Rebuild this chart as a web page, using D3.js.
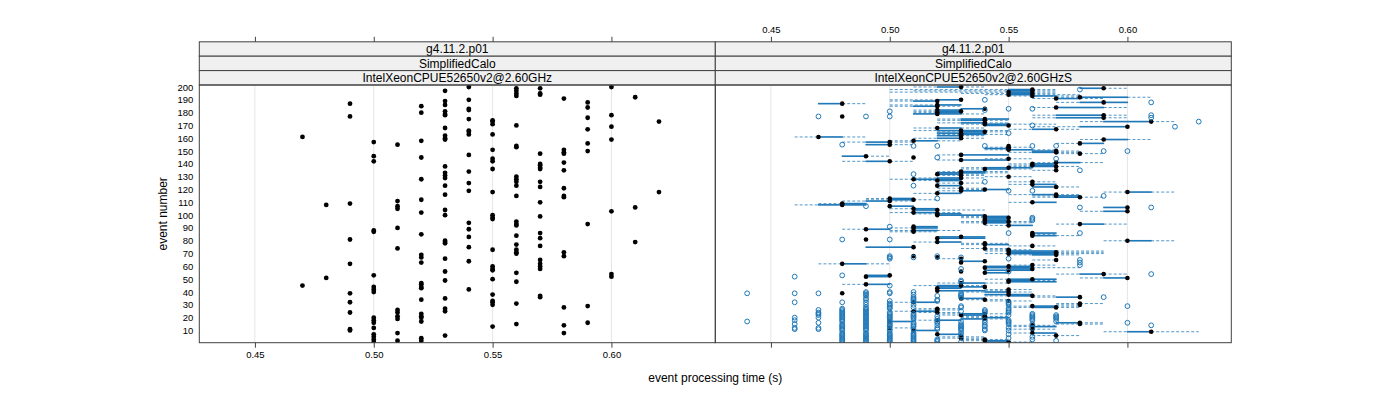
<!DOCTYPE html>
<html><head><meta charset="utf-8">
<script src="https://cdn.jsdelivr.net/npm/d3@7"></script>
<style>
body{margin:0;background:#fff}
svg{display:block}
text{font-family:"Liberation Sans",Arial,Helvetica,sans-serif;fill:#000}
</style></head>
<body><svg id="chart" width="1400" height="400"></svg>
<script>
// ---------------- data ----------------
const stripLevel1 = "g4.11.2.p01";
const stripLevel2 = "SimplifiedCalo";
const panelNames = ["IntelXeonCPUE52650v2@2.60GHz", "IntelXeonCPUE52650v2@2.60GHzS"];
const xTickValues = [0.45, 0.50, 0.55, 0.60];
const yTickValues = [10,20,30,40,50,60,70,80,90,100,110,120,130,140,150,160,170,180,190,200];
const xLabel = "event processing time (s)";
const yLabel = "event number";

// left panel: single measurement per event (time column -> event numbers)
const leftTimes = [0.47,0.48,0.49,0.50,0.51,0.52,0.53,0.54,0.55,0.56,0.57,0.58,0.59,0.60,0.61,0.62];
const leftEvents = [
  [161,45],
  [108,51],
  [187,177,109,81,62,39,32,24,11,10],
  [157,146,142,88,87,53,44,42,40,20,18,16,12,7,5,3,1],
  [155,111,107,105,90,74,26,24,21,19,8,2],
  [185,180,158,145,128,112,102,85,69,67,63,47,46,44,43,34,23,21,20,17,4,2],
  [197,189,186,181,179,178,168,162,160,159,138,133,131,129,123,116,104,100,80,79,78,66,56,49,35,27,25,6],
  [200,190,183,182,175,166,165,163,147,134,125,119,94,89,83,75,64,42],
  [174,173,171,163,151,144,142,136,118,100,98,97,73,60,58,57,50,38,33,32,30,13],
  [199,197,195,193,170,154,153,130,128,126,123,115,95,93,92,84,77,73,71,70,55,48,31,15],
  [199,195,194,148,140,139,137,136,126,122,110,99,86,82,76,65,62,60,58,37,36],
  [191,151,149,148,141,135,121,115,114,71,68,28,14,8],
  [188,184,176,167,156,150,93,29,16],
  [200,178,169,159,103,54,52],
  [192,106,79],
  [173,118]
];

// right panel: box statistics per event [event, whiskerLow, q1, median, q3, whiskerHigh]
const rightBoxes = [
[200,.51,.52,.53,.53,.54],[199,.58,.58,.59,.59,.60],[198,.50,.55,.56,.56,.57],[197,.51,.55,.56,.56,.57],
[196,.50,.55,.55,.56,.57],[195,.53,.55,.56,.56,.57],[194,.54,.55,.55,.56,.58],[193,.55,.56,.56,.57,.58],
[192,.57,.58,.58,.60,.61],[191,.56,.57,.57,.58,.59],[190,.50,.52,.53,.53,.53],[189,.50,.51,.52,.52,.52],
[188,.57,.58,.59,.60,.60],[187,.47,.47,.48,.48,.49],[186,.50,.52,.52,.53,.53],[185,.50,.51,.52,.52,.53],
[184,.56,.57,.57,.59,.60],[183,.53,.53,.54,.54,.54],[182,.51,.52,.52,.53,.53],[181,.51,.52,.53,.53,.53],
[180,.51,.52,.52,.53,.53],[179,.51,.51,.52,.53,.54],[178,.56,.57,.59,.59,.60],[177,.48,.48,.48,.48,.48],
[176,.56,.57,.59,.59,.60],[175,.52,.53,.54,.55,.55],[174,.52,.53,.54,.54,.55],[173,.58,.59,.61,.61,.62],
[172,.52,.53,.54,.54,.55],[171,.53,.54,.54,.55,.57],[170,.54,.54,.55,.55,.55],[169,.56,.58,.60,.60,.60],
[168,.51,.52,.52,.53,.54],[167,.55,.56,.57,.57,.58],[166,.51,.52,.53,.54,.55],[165,.52,.53,.54,.54,.55],
[164,.52,.52,.53,.54,.54],[163,.52,.53,.53,.54,.55],[162,.52,.52,.53,.53,.54],[161,.46,.47,.47,.48,.49],
[160,.51,.52,.53,.53,.54],[159,.58,.59,.59,.60,.61],[158,.50,.51,.51,.52,.53],[157,.48,.49,.50,.50,.51],
[156,.57,.58,.58,.59,.59],[155,.49,.49,.50,.50,.51],[154,.55,.55,.55,.55,.55],[153,.54,.55,.55,.55,.56],
[152,.54,.54,.55,.55,.55],[151,.54,.55,.55,.56,.57],[150,.56,.56,.57,.57,.58],[149,.55,.56,.57,.57,.58],
[148,.57,.58,.58,.58,.59],[147,.52,.53,.53,.55,.55],[146,.48,.48,.49,.49,.50],[145,.51,.51,.51,.51,.51],
[144,.54,.55,.55,.55,.56],[143,.52,.53,.53,.55,.55],[142,.48,.49,.50,.50,.51],[141,.56,.57,.57,.58,.59],
[140,.55,.56,.56,.57,.57],[139,.55,.56,.56,.57,.57],[138,.55,.56,.57,.57,.58],[137,.53,.54,.55,.56,.56],
[136,.53,.54,.54,.55,.56],[135,.56,.57,.57,.57,.57],[134,.52,.53,.53,.54,.55],[133,.52,.52,.53,.54,.55],
[132,.52,.52,.52,.53,.54],[131,.52,.53,.53,.53,.54],[130,.54,.55,.55,.55,.56],[129,.51,.52,.53,.53,.54],
[128,.50,.51,.51,.53,.53],[127,.51,.52,.52,.53,.53],[126,.55,.56,.56,.56,.57],[125,.52,.53,.53,.53,.54],
[124,.55,.56,.56,.57,.57],[123,.52,.52,.52,.53,.53],[122,.56,.56,.57,.57,.58],[121,.52,.53,.53,.53,.54],
[120,.53,.54,.54,.55,.55],[119,.52,.53,.53,.54,.54],[118,.59,.60,.60,.61,.62],[117,.51,.52,.52,.53,.53],
[116,.55,.56,.57,.57,.58],[115,.56,.57,.57,.58,.58],[114,.56,.57,.58,.58,.59],[113,.49,.50,.50,.51,.51],
[112,.49,.50,.51,.51,.52],[111,.48,.49,.50,.50,.51],[110,.55,.56,.56,.57,.57],[109,.47,.48,.48,.49,.49],
[108,.46,.47,.48,.49,.49],[107,.50,.50,.50,.51,.51],[106,.59,.59,.60,.60,.60],[105,.50,.51,.51,.52,.52],
[104,.51,.51,.52,.52,.54],[103,.58,.59,.60,.60,.60],[102,.50,.51,.51,.52,.53],[101,.51,.52,.52,.53,.53],
[100,.52,.52,.52,.54,.54],[99,.53,.54,.54,.55,.55],[98,.53,.54,.55,.55,.55],[97,.54,.54,.54,.55,.55],
[96,.54,.54,.54,.55,.55],[95,.53,.54,.55,.55,.56],[94,.53,.54,.54,.55,.56],[93,.57,.58,.58,.59,.60],
[92,.54,.55,.55,.56,.56],[91,.51,.51,.51,.52,.52],[90,.50,.51,.51,.52,.52],[89,.48,.49,.49,.50,.50],
[88,.50,.51,.51,.52,.53],[87,.50,.51,.51,.51,.52],[86,.56,.56,.56,.57,.57],[85,.56,.56,.56,.56,.57],
[84,.56,.56,.56,.57,.58],[83,.52,.52,.53,.54,.54],[82,.52,.52,.52,.54,.54],[81,.49,.49,.49,.49,.49],
[80,.59,.60,.60,.61,.62],[79,.51,.52,.52,.53,.53],[78,.53,.54,.54,.54,.55],[77,.53,.54,.54,.55,.55],
[76,.55,.56,.56,.56,.57],[75,.49,.49,.51,.51,.51],[74,.53,.54,.54,.54,.55],[73,.54,.55,.55,.55,.56],
[72,.54,.55,.55,.57,.59],[71,.55,.55,.57,.57,.59],[70,.54,.55,.55,.57,.59],[69,.55,.56,.57,.57,.58],
[68,.51,.51,.51,.51,.51],[67,.52,.52,.52,.52,.52],[66,.52,.53,.53,.53,.53],[65,.56,.57,.57,.57,.57],
[64,.53,.53,.54,.54,.54],[63,.53,.53,.53,.53,.53],[62,.47,.48,.48,.49,.50],[61,.55,.56,.56,.56,.57],
[60,.54,.54,.55,.56,.56],[59,.54,.54,.54,.56,.58],[58,.55,.55,.56,.56,.56],[57,.54,.54,.55,.56,.56],
[56,.53,.53,.53,.53,.53],[55,.54,.54,.54,.55,.55],[54,.57,.58,.59,.59,.60],[53,.49,.49,.50,.50,.50],
[52,.49,.49,.49,.50,.50],[51,.58,.59,.60,.60,.60],[50,.54,.55,.56,.57,.57],[49,.55,.55,.55,.56,.57],
[48,.55,.55,.55,.57,.57],[47,.52,.53,.53,.54,.55],[46,.48,.49,.49,.50,.50],[45,.51,.52,.53,.53,.54],
[44,.52,.52,.54,.54,.54],[43,.52,.52,.52,.53,.53],[42,.54,.55,.55,.55,.56],[41,.52,.52,.52,.54,.55],
[40,.53,.54,.55,.55,.56],[39,.48,.48,.48,.48,.48],[38,.54,.54,.55,.56,.56],[37,.54,.55,.56,.56,.57],
[36,.56,.57,.58,.58,.58],[35,.53,.53,.53,.54,.54],[34,.53,.54,.54,.54,.55],[33,.54,.55,.55,.55,.56],
[32,.50,.51,.51,.52,.52],[31,.57,.58,.58,.58,.59],[30,.57,.58,.58,.58,.58],[29,.55,.56,.56,.57,.58],
[28,.55,.56,.57,.57,.58],[27,.51,.52,.52,.52,.53],[26,.51,.52,.52,.52,.53],[25,.50,.51,.51,.52,.52],
[24,.51,.52,.52,.52,.53],[23,.52,.53,.54,.54,.55],[22,.52,.53,.53,.54,.54],[21,.53,.54,.54,.54,.55],
[20,.53,.54,.54,.55,.55],[19,.53,.53,.54,.54,.55],[18,.51,.52,.52,.53,.53],[17,.50,.50,.50,.51,.51],
[16,.57,.57,.58,.58,.59],[15,.57,.58,.58,.58,.59],[14,.55,.56,.56,.56,.57],[13,.55,.56,.56,.57,.57],
[12,.50,.50,.50,.50,.51],[11,.55,.56,.56,.56,.57],[10,.51,.51,.51,.52,.52],[9,.59,.60,.61,.61,.63],
[8,.55,.56,.56,.57,.57],[7,.52,.52,.52,.53,.53],[6,.56,.57,.57,.57,.58],[5,.52,.53,.53,.53,.54],
[4,.52,.53,.53,.53,.54],[3,.53,.54,.54,.54,.55],[2,.53,.54,.54,.55,.55],[1,.54,.54,.55,.55,.56]
];

// right panel: outlying measurements per event [event, [times]]
const rightOutliers = [
[198,[.58]],[190,[.54]],[188,[.61]],[183,[.55,.56]],[182,[.54]],[181,[.50]],[178,[.61]],
[177,[.47,.49,.50]],[176,[.61]],[173,[.63]],[170,[.56]],[169,[.62]],[164,[.55]],[155,[.48]],
[154,[.51,.52,.54,.56,.57]],[150,[.59,.60]],[145,[.52]],[144,[.57]],[135,[.58]],[132,[.51]],
[126,[.54]],[123,[.51]],[119,[.55,.56]],[115,[.59]],[113,[.52]],[107,[.49]],[106,[.58,.61]],
[98,[.56]],[97,[.56]],[96,[.56]],[91,[.50]],[86,[.55,.58]],[81,[.48,.50]],[68,[.50,.52]],
[67,[.50,.51,.53]],[66,[.50,.55]],[65,[.58]],[63,[.58]],[61,[.58]],[58,[.53]],[56,[.55]],
[54,[.61]],[53,[.48]],[52,[.46]],[49,[.53]],[48,[.53]],[45,[.50]],[40,[.49,.50,.51]],
[39,[.44,.46,.47,.49,.50,.53]],[38,[.49,.51,.53]],[37,[.49,.52,.53]],[36,[.51,.53,.59]],
[35,[.49,.51]],[34,[.49,.51,.52]],[33,[.50,.51,.52]],[32,[.46,.48,.49,.55]],[31,[.50,.55]],
[30,[.49,.50,.51,.55]],[29,[.50,.53,.60]],[28,[.49,.50,.51,.53]],[27,[.48,.49,.50,.55]],
[26,[.47,.48,.49,.54,.55]],[25,[.48,.49,.53,.54,.55]],[24,[.47,.48,.49,.50,.54,.55]],
[23,[.47,.48,.49,.50,.51,.56]],[22,[.47,.48,.49,.50,.51,.55,.56,.57]],
[21,[.48,.49,.50,.51,.52,.56,.57]],[20,[.46,.47,.48,.49,.50,.51,.56,.57]],
[19,[.48,.49,.50,.51,.52,.56,.57]],[18,[.46,.48,.49,.50,.54,.55,.56]],
[17,[.44,.48,.49,.52,.53,.55,.57]],[16,[.47,.49,.50,.51,.52,.54,.55,.60]],
[15,[.46,.48,.49,.50,.51,.53,.55,.56]],[14,[.48,.49,.50,.51,.52,.53,.54,.61]],
[13,[.48,.49,.50,.51,.53,.54]],[12,[.46,.47,.48,.49,.52,.53,.55,.56]],
[11,[.46,.47,.48,.49,.50,.51,.52,.53,.54]],[10,[.48,.49,.50,.53,.54,.55]],
[8,[.48,.49,.50,.51,.53]],[7,[.48,.49,.50,.51,.55]],[6,[.48,.49,.50,.51,.53]],
[5,[.48,.49,.50,.51,.56]],[4,[.48,.49,.50,.51,.55]],[3,[.48,.49,.50,.51,.52,.56]],
[2,[.48,.49,.50,.51,.52,.57]],[1,[.48,.49,.50,.51,.52,.53]]
];

// ---------------- layout ----------------
const svg = d3.select("#chart");
const panelW = 516;
const panelX = [199.3, 715.3];
const panelTop = 85, panelBottom = 342.7;
const stripH = 14.4;
const stripTop = panelTop - 3 * stripH;
const blue = "#1f78b8";
const frame = "#404040";

const x = d3.scaleLinear().domain([0.4266, 0.6437]).range([0, panelW]);
const y = d3.scaleLinear().domain([0.45, 201.56]).range([panelBottom, panelTop]);

const leftPoints = [];
leftTimes.forEach((t, i) => leftEvents[i].forEach(e => leftPoints.push({e, t})));

panelNames.forEach((name, p) => {
  const g = svg.append("g").attr("transform", `translate(${panelX[p]},0)`);
  const clipId = "clip" + p;
  g.append("clipPath").attr("id", clipId).append("rect")
    .attr("x", 0).attr("y", panelTop).attr("width", panelW).attr("height", panelBottom - panelTop);

  // grid
  g.append("g").selectAll("line").data(xTickValues).join("line")
    .attr("x1", d => x(d)).attr("x2", d => x(d))
    .attr("y1", panelTop).attr("y2", panelBottom)
    .attr("stroke", "#e6e6e6").attr("stroke-width", 1);

  const body = g.append("g").attr("clip-path", `url(#${clipId})`);

  if (p === 0) {
    body.append("g").selectAll("circle").data(leftPoints).join("circle")
      .attr("cx", d => x(d.t)).attr("cy", d => y(d.e)).attr("r", 2.4).attr("fill", "#000");
  } else {
    const bh = 0.5 * Math.abs(y(1) - y(0));
    // boxes
    body.append("g").selectAll("rect").data(rightBoxes).join("rect")
      .attr("x", d => x(d[2])).attr("width", d => Math.max(0, x(d[4]) - x(d[2])))
      .attr("y", d => y(d[0]) - bh / 2).attr("height", bh)
      .attr("fill", "none").attr("stroke", blue).attr("stroke-width", 1);
    // whiskers
    const wh = [];
    rightBoxes.forEach(d => {
      if (d[1] < d[2]) wh.push({e: d[0], a: d[1], b: d[2]});
      if (d[5] > d[4]) wh.push({e: d[0], a: d[4], b: d[5]});
    });
    body.append("g").selectAll("line").data(wh).join("line")
      .attr("x1", d => x(d.a)).attr("x2", d => x(d.b))
      .attr("y1", d => y(d.e)).attr("y2", d => y(d.e))
      .attr("stroke", blue).attr("stroke-width", 0.9).attr("stroke-dasharray", "3,2").attr("opacity", 0.85);
    // medians
    body.append("g").selectAll("circle").data(rightBoxes).join("circle")
      .attr("cx", d => x(d[3])).attr("cy", d => y(d[0])).attr("r", 2.3).attr("fill", "#000");
    // outliers
    const outs = [];
    rightOutliers.forEach(([e, ts]) => ts.forEach(t => outs.push({e, t})));
    body.append("g").selectAll("circle").data(outs).join("circle")
      .attr("cx", d => x(d.t)).attr("cy", d => y(d.e)).attr("r", 2.4)
      .attr("fill", "none").attr("stroke", blue).attr("stroke-width", 1);
  }

  // strips
  const strips = [stripLevel1, stripLevel2, name];
  strips.forEach((s, k) => {
    const sy = stripTop + k * stripH;
    g.append("rect").attr("x", 0).attr("y", sy).attr("width", panelW).attr("height", stripH)
      .attr("fill", "#f0f0f0").attr("stroke", frame).attr("stroke-width", 1);
    g.append("text").attr("x", panelW / 2).attr("y", sy + stripH / 2).attr("dy", "0.36em")
      .attr("text-anchor", "middle").attr("font-size", "12px").text(s);
  });

  // panel frame
  g.append("rect").attr("x", 0).attr("y", panelTop).attr("width", panelW).attr("height", panelBottom - panelTop)
    .attr("fill", "none").attr("stroke", frame).attr("stroke-width", 1);

  // axes: bottom labelled on left panel, top labelled on right panel
  const fmt = d3.format(".2f");
  const bottom = d3.axisBottom(x).tickValues(xTickValues).tickSize(5).tickPadding(4)
    .tickFormat(p === 0 ? fmt : () => "");
  const top = d3.axisTop(x).tickValues(xTickValues).tickSize(5).tickPadding(4)
    .tickFormat(p === 1 ? fmt : () => "");
  const gb = g.append("g").attr("transform", `translate(0,${panelBottom})`).call(bottom);
  const gt = g.append("g").attr("transform", `translate(0,${stripTop})`).call(top);
  [gb, gt].forEach(a => {
    a.select(".domain").remove();
    a.selectAll("line").attr("stroke", frame);
    a.selectAll("text").attr("font-size", "9.5px").attr("font-family", '"Liberation Sans",Arial,sans-serif').attr("fill", "#000");
  });
});

// y axis (labels only)
const gy = svg.append("g").attr("transform", `translate(${panelX[0]},0)`)
  .call(d3.axisLeft(y).tickValues(yTickValues).tickSize(0).tickPadding(6));
gy.select(".domain").remove();
gy.selectAll("text").attr("font-size", "9.5px").attr("font-family", '"Liberation Sans",Arial,sans-serif').attr("fill", "#000");

// axis titles
svg.append("text").attr("x", panelX[1]).attr("y", 382).attr("text-anchor", "middle")
  .attr("font-size", "12px").text(xLabel);
svg.append("text").attr("transform", `translate(167,${(panelTop + panelBottom) / 2}) rotate(-90)`)
  .attr("text-anchor", "middle").attr("font-size", "12px").text(yLabel);
</script>
</body></html>
